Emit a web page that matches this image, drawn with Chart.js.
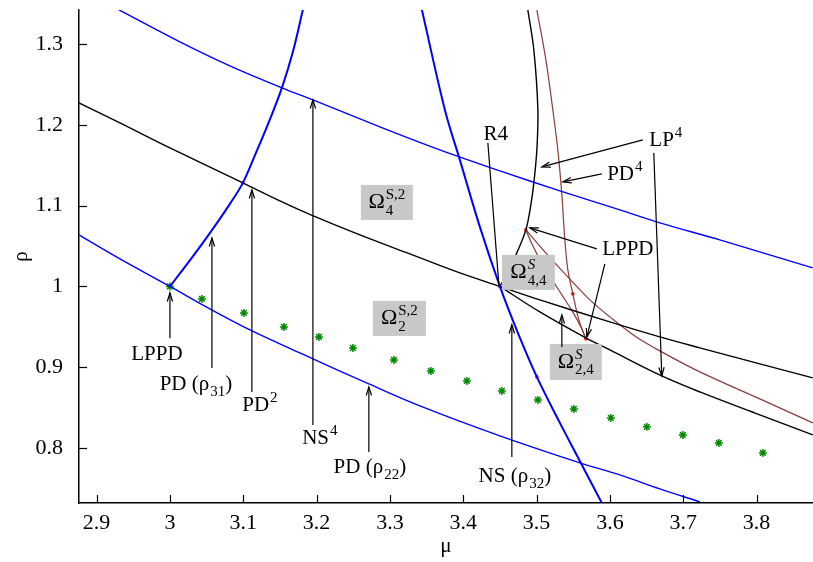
<!DOCTYPE html>
<html><head><meta charset="utf-8">
<script src="https://cdn.jsdelivr.net/npm/chart.js@4.4.1/dist/chart.umd.min.js"></script>
<style>html,body{margin:0;padding:0;background:#fff}#wrap{width:813px;height:562px}</style>
</head><body><div id="wrap"><canvas id="c" width="813" height="562"></canvas></div>
<script>
// ---------- data (mu, rho) ----------
const xTicks = [2.9, 3.0, 3.1, 3.2, 3.3, 3.4, 3.5, 3.6, 3.7, 3.8];
const xTickLabels = ['2.9', '3', '3.1', '3.2', '3.3', '3.4', '3.5', '3.6', '3.7', '3.8'];
const yTicks = [0.8, 0.9, 1.0, 1.1, 1.2, 1.3];
const yTickLabels = ['0.8', '0.9', '1', '1.1', '1.2', '1.3'];

const blueUpper = [[2.9305,1.3422],[3.0136,1.3026],[3.0818,1.2729],[3.1527,1.2457],[3.1950,1.2308],[3.2863,1.1974],[3.3681,1.1689],[3.4500,1.1429],[3.5318,1.1182],[3.6136,1.0946],[3.6681,1.0786],[3.7499,1.0575],[3.8767,1.0229]];
const blueLeftSteep = [[3.0,1.0],[3.0205,1.0241],[3.0409,1.0489],[3.0614,1.0749],[3.0818,1.1021],[3.0995,1.1281],[3.1173,1.1652],[3.1350,1.2036],[3.1527,1.2457],[3.1677,1.2902],[3.1813,1.3422]];
const blueLower = [[2.8759,1.0637],[2.9318,1.0340],[3.0,1.0],[3.0545,0.9722],[3.1091,0.9462],[3.1773,0.9177],[3.2713,0.8793],[3.3409,0.8521],[3.4500,0.8150],[3.5591,0.7816],[3.6136,0.7667],[3.6681,0.7494],[3.7227,0.7333]];
const blueNS = [[3.3436,1.3422],[3.3750,1.2184],[3.3954,1.1566],[3.4227,1.0736],[3.4500,1.0],[3.4745,0.9425],[3.5004,0.8880],[3.5318,0.8311],[3.5604,0.7816],[3.5890,0.7321]];
const blackLeft = [[2.8759,1.2271],[2.9318,1.2024],[3.0,1.1714],[3.0995,1.1281],[3.1500,1.1058],[3.1923,1.0885],[3.2591,1.0637],[3.3272,1.0402],[3.3954,1.0167],[3.45,1.0]];
const blackUpperRight = [[3.45,1.0],[3.5045,0.9833],[3.5999,0.9561],[3.6681,0.9375],[3.7227,0.9239],[3.8045,0.9041],[3.8767,0.8868]];
const blackLowerRight = [[3.45,1.0],[3.5045,0.9684],[3.5672,0.9363],[3.5999,0.9214],[3.6708,0.8892],[3.7227,0.8694],[3.8045,0.8410],[3.8767,0.8162]];
const blackLP4 = [[3.4881,1.3422],[3.4963,1.2927],[3.5018,1.2184],[3.5004,1.1689],[3.4963,1.1281],[3.4922,1.1009],[3.4854,1.0699],[3.4731,1.0415],[3.4609,1.0179],[3.45,1.0]];
const brownPD4 = [[3.5004,1.3422],[3.5127,1.2803],[3.5222,1.2184],[3.5290,1.1689],[3.5345,1.1132],[3.5386,1.0575],[3.5427,1.0204],[3.5495,0.9907],[3.5577,0.9585],[3.5672,0.9350]];
const brownInner = [[3.4854,1.0699],[3.4950,1.0501],[3.5072,1.0291],[3.5222,1.0068],[3.5372,0.9858],[3.5509,0.9660],[3.5604,0.9499],[3.5672,0.9351]];
const brownLong = [[3.4854,1.0699],[3.5113,1.0427],[3.5413,1.0130],[3.5727,0.9833],[3.5999,0.9623],[3.6340,0.9387],[3.6681,0.9202],[3.7227,0.8942],[3.8045,0.8608],[3.8767,0.8311]];
const greenPoints = [[3.0,1.0],[3.0436,0.9845],[3.1009,0.9672],[3.1554,0.9499],[3.2032,0.9375],[3.2495,0.9239],[3.3054,0.9090],[3.3559,0.8954],[3.4050,0.8830],[3.4527,0.8707],[3.5018,0.8595],[3.5509,0.8484],[3.6013,0.8373],[3.6504,0.8262],[3.6995,0.8162],[3.7486,0.8063],[3.8086,0.7939]];
const redPoints = [[3.0995,1.1281],[3.45,1.0],[3.5004,0.888],[3.4854,1.0699],[3.5672,0.9351],[3.5495,0.9907]];

// ---------- annotations (data coordinates) ----------
const F = 'Liberation Serif';
const labels = [
  {at:[2.9823,0.9177], segs:[{t:'LPPD'}]},
  {at:[3.0355,0.8806], segs:[{t:'PD ('},{t:'ρ'},{sub:'31'},{t:')'}]},
  {at:[3.1227,0.8546], segs:[{t:'PD'},{sup:'2'}]},
  {at:[3.2045,0.8137], segs:[{t:'NS'},{sup:'4'}]},
  {at:[3.2727,0.7779], segs:[{t:'PD ('},{t:'ρ'},{sub:'22'},{t:')'}]},
  {at:[3.4704,0.7667], segs:[{t:'NS ('},{t:'ρ'},{sub:'32'},{t:')'}]},
  {at:[3.4445,1.1900], segs:[{t:'R4'}]},
  {at:[3.6763,1.1825], segs:[{t:'LP'},{sup:'4'}]},
  {at:[3.6204,1.1405], segs:[{t:'PD'},{sup:'4'}]},
  {at:[3.6245,1.0476], segs:[{t:'LPPD'}]}
];
const arrows = [
  {from:[3.0,0.936], to:[3.0,0.992], head:true},
  {from:[3.0573,0.8991], to:[3.0573,1.0600], head:true},
  {from:[3.1118,0.8694], to:[3.1118,1.1194], head:true},
  {from:[3.1950,0.8286], to:[3.1950,1.2308], head:true},
  {from:[3.2713,0.7952], to:[3.2713,0.8756], head:true},
  {from:[3.4663,0.7890], to:[3.4663,0.9524], head:true},
  {from:[3.4336,1.1776], to:[3.4486,1.0019], head:false},
  {from:[3.6449,1.1813], to:[3.5072,1.1479], head:true},
  {from:[3.6599,1.1652], to:[3.6708,0.8892], head:true},
  {from:[3.5890,1.1392], to:[3.5359,1.1293], head:true},
  {from:[3.5822,1.0464], to:[3.4909,1.0724], head:true},
  {from:[3.5931,1.0278], to:[3.5686,0.9375], head:true},
  {from:[3.5345,0.9251], to:[3.5345,0.9647], head:true}
];
const boxes = [
  {x:[3.2604,3.3313], y:[1.1256,1.0823], base:'Ω', sup:'S,2', sub:'4', it:false},
  {x:[3.2768,3.3491], y:[0.9821,0.9387], base:'Ω', sup:'S,2', sub:'2', it:false},
  {x:[3.4527,3.5250], y:[1.0390,0.9957], base:'Ω', sup:'S', sub:'4,4', it:true},
  {x:[3.5181,3.5890], y:[0.9288,0.8843], base:'Ω', sup:'S', sub:'2,4', it:true}
];

const toXY = a => a.map(p => ({x:p[0], y:p[1]}));
function lineDs(d, color, w){ return {data:toXY(d), showLine:true, borderColor:color, borderWidth:w, pointRadius:0, tension:0.35, fill:false}; }

const FS = 21, SS = 15;
function measure(ctx, segs, fs, ss){
  let w = 0;
  for (const s of segs){
    if (s.t !== undefined){ ctx.font = fs+'px "'+F+'"'; w += ctx.measureText(s.t).width; }
    else { ctx.font = ss+'px "'+F+'"'; w += Math.max(s.sup?ctx.measureText(s.sup).width:0, s.sub?ctx.measureText(s.sub).width:0) + 1; }
  }
  return w;
}
function drawSegs(ctx, segs, x, base, fs, ss, itSup){
  for (const s of segs){
    if (s.t !== undefined){ ctx.font = fs+'px "'+F+'"'; ctx.fillText(s.t, x, base); x += ctx.measureText(s.t).width; }
    else {
      let w = 0;
      if (s.sup){ ctx.font = (itSup?'italic ':'')+ss+'px "'+F+'"'; ctx.fillText(s.sup, x+1, base - fs*0.42); w = Math.max(w, ctx.measureText(s.sup).width); }
      if (s.sub){ ctx.font = ss+'px "'+F+'"'; ctx.fillText(s.sub, x+1, base + fs*0.28); w = Math.max(w, ctx.measureText(s.sub).width); }
      x += w + 1;
    }
  }
}
function arrowLine(ctx, x1, y1, x2, y2, head){
  ctx.beginPath(); ctx.moveTo(x1,y1); ctx.lineTo(x2,y2); ctx.stroke();
  if (head){
    const a = Math.atan2(y2-y1, x2-x1), L = 9, h = 0.3;
    ctx.beginPath();
    ctx.moveTo(x2 - L*Math.cos(a-h), y2 - L*Math.sin(a-h));
    ctx.lineTo(x2, y2);
    ctx.lineTo(x2 - L*Math.cos(a+h), y2 - L*Math.sin(a+h));
    ctx.stroke();
  }
}
function noPad(s){ s.paddingTop = 0; s.paddingBottom = 0; s.paddingLeft = 0; s.paddingRight = 0; }

const annot = {
  id:'annot',
  afterDraw(chart){
    const ctx = chart.ctx, xs = chart.scales.x, ys = chart.scales.y, ca = chart.chartArea;
    const X = v => xs.getPixelForValue(v), Y = v => ys.getPixelForValue(v);
    ctx.save();
    ctx.strokeStyle = '#000'; ctx.lineWidth = 1.2;
    for (const v of xTicks){ const px = Math.round(X(v))+0.5; ctx.beginPath(); ctx.moveTo(px, ca.bottom); ctx.lineTo(px, ca.bottom-8); ctx.stroke(); }
    for (const v of yTicks){ const py = Math.round(Y(v))+0.5; ctx.beginPath(); ctx.moveTo(ca.left, py); ctx.lineTo(ca.left+8, py); ctx.stroke(); }
    for (const b of boxes){
      const x0 = X(b.x[0]), x1 = X(b.x[1]), y0 = Y(b.y[0]), y1 = Y(b.y[1]);
      ctx.fillStyle = '#c8c8c8'; ctx.fillRect(x0, y0, x1-x0, y1-y0);
      ctx.fillStyle = '#000'; ctx.textBaseline = 'alphabetic'; ctx.textAlign = 'left';
      const segs = [{t:b.base},{sup:b.sup, sub:b.sub}];
      const w = measure(ctx, segs, 22, SS);
      drawSegs(ctx, segs, (x0+x1)/2 - w/2, (y0+y1)/2 + 6, 22, SS, b.it);
    }
    ctx.strokeStyle = '#000'; ctx.lineWidth = 1.2;
    for (const a of arrows) arrowLine(ctx, X(a.from[0]), Y(a.from[1]), X(a.to[0]), Y(a.to[1]), a.head);
    ctx.fillStyle = '#000'; ctx.textBaseline = 'alphabetic'; ctx.textAlign = 'left';
    for (const l of labels){
      const w = measure(ctx, l.segs, FS, SS);
      drawSegs(ctx, l.segs, X(l.at[0]) - w/2, Y(l.at[1]) + 7, FS, SS, false);
    }
    ctx.restore();
  }
};

new Chart(document.getElementById('c'), {
  type:'scatter',
  data:{datasets:[
    lineDs(blueUpper, '#0000ff', 1.4),
    lineDs(blueLeftSteep, '#0000ff', 2),
    lineDs(blueLower, '#0000ff', 1.4),
    lineDs(blueNS, '#0000ff', 2),
    lineDs(blackLeft, '#000000', 1.4),
    lineDs(blackUpperRight, '#000000', 1.4),
    lineDs(blackLowerRight, '#000000', 1.4),
    lineDs(blackLP4, '#000000', 1.4),
    lineDs(brownPD4, '#8b3c3c', 1.2),
    lineDs(brownInner, '#8b3c3c', 1.2),
    lineDs(brownLong, '#8b3c3c', 1.2),
    {data:toXY(greenPoints), showLine:false, pointStyle:'star', pointRadius:4, borderColor:'#008a00', backgroundColor:'#008a00', borderWidth:1.5},
    {data:toXY(redPoints), showLine:false, pointStyle:'circle', pointRadius:1.8, borderWidth:0, backgroundColor:'#ff0000'}
  ]},
  options:{
    responsive:false, animation:false, devicePixelRatio:1,
    layout:{autoPadding:false, padding:{top:10, right:0, left:0, bottom:0}},
    plugins:{legend:{display:false}, tooltip:{enabled:false}},
    scales:{
      x:{type:'linear', min:2.876, max:3.877,
        grid:{display:false, drawTicks:false}, border:{display:true, color:'#000', width:1.5},
        afterBuildTicks:s=>{s.ticks = xTicks.map(v=>({value:v}));},
        afterFit:s=>{s.height = 59; noPad(s);},
        ticks:{font:{family:F, size:22}, color:'#000', padding:7, maxRotation:0, autoSkip:false, callback:(v,i)=>xTickLabels[i]},
        title:{display:true, text:'μ', font:{family:F, size:21}, color:'#000', padding:{top:0, bottom:3}}},
      y:{type:'linear', min:0.732, max:1.342,
        grid:{display:false, drawTicks:false}, border:{display:true, color:'#000', width:1.5},
        afterBuildTicks:s=>{s.ticks = yTicks.map(v=>({value:v}));},
        afterFit:s=>{s.width = 79; noPad(s);},
        ticks:{font:{family:F, size:22}, color:'#000', padding:16, autoSkip:false, callback:(v,i)=>yTickLabels[i]},
        title:{display:true, text:'ρ', font:{family:F, size:21}, color:'#000', padding:{top:9, bottom:0}}}
    }
  },
  plugins:[annot]
});
</script></body></html>
